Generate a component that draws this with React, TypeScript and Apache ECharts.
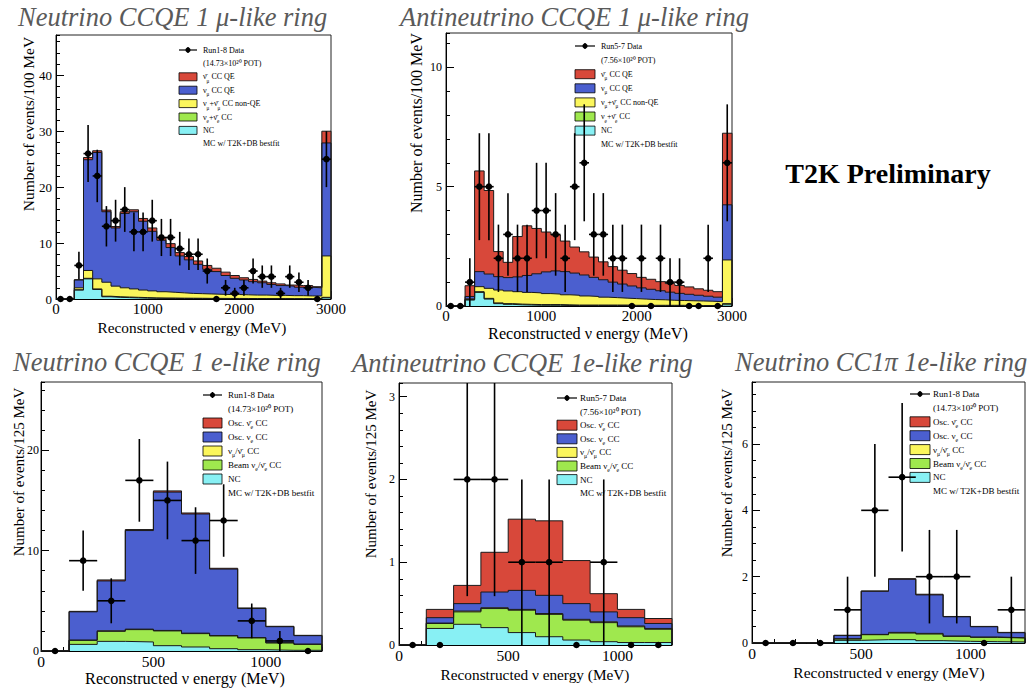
import React, { useEffect, useRef } from 'react';
import * as echarts from 'echarts';

const SERIF = '"Liberation Serif", "Times New Roman", Times, serif';

// Bin widths (MeV)
const MU_BIN = 100;
const E_BIN = 125;

// ---------- Panel 1: Neutrino CCQE 1 μ-like ring (100 MeV bins, last bin = overflow) ----------
const P1_NC = [0, 0, 1.6, 3.6, 1.7, 0.4, 0.3, 0.25, 0.2, 0.15, 0.12, 0.1, 0.1, 0.08, 0.08, 0.07, 0.06, 0.06, 0.05, 0.05, 0.05, 0.04, 0.04, 0.04, 0.04, 0.03, 0.03, 0.03, 0.03, 0.2];
const P1_NUE = [0, 0, 0.05, 0.1, 0.1, 0.1, 0.1, 0.1, 0.1, 0.1, 0.08, 0.08, 0.07, 0.07, 0.06, 0.06, 0.05, 0.05, 0.05, 0.05, 0.04, 0.04, 0.04, 0.03, 0.03, 0.03, 0.03, 0.03, 0.03, 0.1];
const P1_NONQE = [0, 0, 0.35, 1.4, 1.8, 2.5, 1.9, 1.65, 1.5, 1.35, 1.25, 1.12, 1.03, 0.95, 0.86, 0.82, 0.79, 0.74, 0.7, 0.7, 0.66, 0.62, 0.62, 0.58, 0.58, 0.54, 0.54, 0.49, 0.49, 7.4];
const P1_NUMU_QE = [0, 0, 1.4, 19.8, 22.6, 12.6, 10.4, 13.3, 13.8, 12.3, 10.65, 9.2, 8.0, 6.6, 6.0, 5.25, 4.4, 4.05, 3.4, 2.9, 2.65, 2.4, 2.2, 1.95, 1.75, 1.7, 1.5, 1.55, 1.45, 20.2];
const P1_NUMUBAR_QE = [0, 0, 0.05, 0.4, 0.3, 0.3, 0.25, 0.3, 0.35, 0.5, 0.6, 0.5, 0.7, 0.6, 0.6, 0.6, 0.7, 0.6, 0.6, 0.5, 0.4, 0.4, 0.3, 0.3, 0.3, 0.2, 0.3, 0.3, 0.2, 2.1];
const P1_DATA = [0, 0, 6, 26, 22, 13, 14, 16, 12, 12, 14, 11, 11, 9, 8, 8, 5, 0, 2, 1, 2, 5, 4, 4, 1, 4, 3, 2, 0, 25];
const P1_ERR = [0, 0, 2.45, 5.1, 4.69, 3.61, 3.74, 4, 3.46, 3.46, 3.74, 3.32, 3.32, 3, 2.83, 2.83, 2.24, 0, 1.41, 1, 1.41, 2.24, 2, 2, 1, 2, 1.73, 1.41, 0, 5];

// ---------- Panel 2: Antineutrino CCQE 1 μ-like ring ----------
const P2_NC = [0, 0, 0.25, 0.57, 0.29, 0.1, 0.07, 0.05, 0.04, 0.03, 0.03, 0.03, 0.02, 0.02, 0.02, 0.02, 0.02, 0.02, 0.02, 0.01, 0.01, 0.01, 0.01, 0.01, 0.01, 0.01, 0.01, 0.01, 0.01, 0.05];
const P2_NUE = [0, 0, 0.02, 0.03, 0.03, 0.03, 0.03, 0.03, 0.03, 0.03, 0.03, 0.03, 0.03, 0.02, 0.02, 0.02, 0.02, 0.02, 0.02, 0.02, 0.02, 0.02, 0.02, 0.02, 0.02, 0.01, 0.01, 0.01, 0.01, 0.05];
const P2_NONQE = [0, 0, 0.03, 0.21, 0.42, 0.54, 0.53, 0.52, 0.5, 0.49, 0.46, 0.44, 0.42, 0.41, 0.38, 0.36, 0.33, 0.31, 0.29, 0.28, 0.26, 0.24, 0.23, 0.21, 0.2, 0.2, 0.19, 0.18, 0.16, 1.83];
const P2_NUMU_QE = [0, 0, 0.1, 0.63, 0.6, 0.56, 0.56, 0.62, 0.71, 0.8, 0.91, 0.97, 0.97, 0.93, 0.88, 0.8, 0.73, 0.65, 0.59, 0.53, 0.47, 0.43, 0.38, 0.34, 0.3, 0.27, 0.24, 0.21, 0.19, 2.31];
const P2_NUMUBAR_QE = [0, 0, 0.45, 4.22, 3.5, 1.05, 0.64, 1.69, 2.08, 1.9, 1.67, 1.51, 1.28, 1.09, 0.97, 0.85, 0.75, 0.65, 0.58, 0.52, 0.44, 0.42, 0.38, 0.36, 0.33, 0.31, 0.27, 0.25, 0.23, 3.0];
const P2_DATA = [0, 0, 1, 5, 5, 2, 3, 2, 2, 4, 4, 3, 2, 5, 6, 3, 3, 2, 2, 0, 2, 0, 2, 1, 1, 0, 0, 2, 0, 6];
const P2_ERR = [0, 0, 1, 2.24, 2.24, 1.41, 1.73, 1.41, 1.41, 2, 2, 1.73, 1.41, 2.24, 2.45, 1.73, 1.73, 1.41, 1.41, 0, 1.41, 0, 1.41, 1, 1, 0, 0, 1.41, 0, 2.45];

// ---------- Panel 3: Neutrino CCQE 1 e-like ring (125 MeV bins) ----------
const P3_NC = [0, 0.66, 0.96, 0.9, 0.53, 0.4, 0.23, 0.13, 0.07, 0.07];
const P3_BEAM = [0, 0.4, 1.0, 1.23, 1.47, 1.33, 1.27, 1.17, 0.73, 0.59];
const P3_NUMU = [0, 0.03, 0.05, 0.05, 0.05, 0.05, 0.04, 0.04, 0.03, 0.03];
const P3_OSC_NUE = [0, 2.81, 4.97, 9.82, 13.78, 11.87, 6.62, 2.89, 1.59, 0.84];
const P3_OSC_NUEBAR = [0, 0.05, 0.1, 0.1, 0.12, 0.1, 0.08, 0.06, 0.04, 0.03];
const P3_DATA = [0, 9, 5, 17, 15, 11, 13, 3, 1, 0];
const P3_ERR = [0, 3, 2.24, 4.12, 3.87, 3.32, 3.61, 1.73, 1, 0];

// ---------- Panel 4: Antineutrino CCQE 1e-like ring ----------
const P4_NC = [0, 0.2, 0.25, 0.21, 0.15, 0.1, 0.06, 0.04, 0.03, 0.03];
const P4_BEAM = [0, 0.06, 0.15, 0.23, 0.27, 0.27, 0.24, 0.23, 0.19, 0.16];
const P4_NUMU = [0, 0.005, 0.01, 0.01, 0.01, 0.01, 0.01, 0.01, 0.01, 0.01];
const P4_OSC_NUE = [0, 0.065, 0.09, 0.19, 0.23, 0.22, 0.19, 0.12, 0.1, 0.06];
const P4_OSC_NUEBAR = [0, 0.1, 0.22, 0.48, 0.86, 0.9, 0.52, 0.22, 0.1, 0.06];
const P4_DATA = [0, 0, 2, 2, 1, 1, 0, 1, 0, 0];
const P4_ERR = [0, 0, 1.41, 1.41, 1, 1, 0, 1, 0, 0];

// ---------- Panel 5: Neutrino CC1π 1e-like ring ----------
const P5_NC = [0, 0, 0, 0.08, 0.1, 0.1, 0.07, 0.05, 0.04, 0.03];
const P5_BEAM = [0, 0, 0, 0.04, 0.15, 0.2, 0.2, 0.15, 0.13, 0.12];
const P5_NUMU = [0, 0, 0, 0.01, 0.01, 0.02, 0.02, 0.01, 0.01, 0.01];
const P5_OSC_NUE = [0, 0, 0, 0.1, 1.3, 1.6, 1.16, 0.58, 0.31, 0.15];
const P5_OSC_NUEBAR = [0, 0, 0, 0, 0.01, 0.02, 0.02, 0.01, 0.01, 0.01];
const P5_DATA = [0, 0, 0, 1, 4, 5, 2, 2, 0, 1];
const P5_ERR = [0, 0, 0, 1, 2, 2.24, 1.41, 1.41, 0, 1];

// Legend labels (top → bottom, i.e. top of stack first). "_x" marks a subscript.
const NUBAR = 'ν\u0304';
const MU_LEGEND = [`${NUBAR}_μ CC QE`, 'ν_μ CC QE', `ν_μ+${NUBAR}_μ CC non-QE`, `ν_e+${NUBAR}_e CC`, 'NC'];
const E_LEGEND = [`Osc. ${NUBAR}_e CC`, 'Osc. ν_e CC', `ν_μ/${NUBAR}_μ CC`, `Beam ν_e/${NUBAR}_e CC`, 'NC'];
const MC_LABEL = 'MC w/ T2K+DB bestfit';
const RUN18 = 'Run1-8 Data';
const RUN57 = 'Run5-7 Data';
const POT18 = '(14.73×10²⁰ POT)';
const POT57 = '(7.56×10²⁰ POT)';
const X_TITLE = 'Reconstructed ν energy (MeV)';

// Stack colours bottom → top: NC, beam νe, νμ non-QE, QE / osc νe, antineutrino
const LAYER_COLORS = ['#88f0f4', '#9fe84e', '#fbf65c', '#4b5fcf', '#d8483a'];

const PANELS = [
  {
    layers: [P1_NC, P1_NUE, P1_NONQE, P1_NUMU_QE, P1_NUMUBAR_QE], data: P1_DATA, err: P1_ERR, bin: MU_BIN,
    grid: { left: 56, top: 35, width: 275, height: 264 },
    xMax: 3000, xMajor: 1000, xMinor: 200, yMax: 47.2, yMajor: 10, yMinor: 2, showXMax: true,
    xLabelSize: 15, yLabelSize: 13, yLabelMargin: 4,
    title: 'Neutrino CCQE 1 μ-like ring', titlePos: [18, 17],
    yTitle: 'Number of events/100 MeV', yTitlePos: [28, 124], yTitleSize: 15.5,
    xTitlePos: [192, 327], xTitleSize: 15.3,
    legendLabels: MU_LEGEND, dataLabel: RUN18, potLabel: POT18,
    lg: { boxX: 179, boxW: 18, textX: 203, y0: 50, dy: 13.4, boxH: 8, fs: 8 },
  },
  {
    layers: [P2_NC, P2_NUE, P2_NONQE, P2_NUMU_QE, P2_NUMUBAR_QE], data: P2_DATA, err: P2_ERR, bin: MU_BIN,
    grid: { left: 446, top: 33, width: 286, height: 273 },
    xMax: 3000, xMajor: 1000, xMinor: 200, yMax: 11.44, yMajor: 5, yMinor: 1, showXMax: true,
    xLabelSize: 15, yLabelSize: 12, yLabelMargin: 4,
    title: 'Antineutrino CCQE 1 μ-like ring', titlePos: [400, 17],
    yTitle: 'Number of events/100 MeV', yTitlePos: [416, 123], yTitleSize: 16,
    xTitlePos: [588, 334], xTitleSize: 16.2,
    legendLabels: MU_LEGEND, dataLabel: RUN57, potLabel: POT57,
    lg: { boxX: 575, boxW: 20, textX: 601, y0: 46, dy: 14.1, boxH: 9, fs: 8 },
  },
  {
    layers: [P3_NC, P3_BEAM, P3_NUMU, P3_OSC_NUE, P3_OSC_NUEBAR], data: P3_DATA, err: P3_ERR, bin: E_BIN,
    grid: { left: 41, top: 382, width: 281, height: 269 },
    xMax: 1250, xMajor: 500, xMinor: 100, yMax: 26.8, yMajor: 10, yMinor: 2, showXMax: false,
    xLabelSize: 15.5, yLabelSize: 12, yLabelMargin: 2,
    title: 'Neutrino CCQE 1 e-like ring', titlePos: [13, 362],
    yTitle: 'Number of events/125 MeV', yTitlePos: [19, 472], yTitleSize: 15,
    xTitlePos: [185, 679], xTitleSize: 16.2,
    legendLabels: E_LEGEND, dataLabel: RUN18, potLabel: POT18,
    lg: { boxX: 203, boxW: 19, textX: 228, y0: 395, dy: 14, boxH: 10, fs: 9 },
  },
  {
    layers: [P4_NC, P4_BEAM, P4_NUMU, P4_OSC_NUE, P4_OSC_NUEBAR], data: P4_DATA, err: P4_ERR, bin: E_BIN,
    grid: { left: 399, top: 383, width: 273, height: 262 },
    xMax: 1250, xMajor: 500, xMinor: 100, yMax: 3.165, yMajor: 1, yMinor: 0.2, showXMax: false,
    xLabelSize: 15.5, yLabelSize: 12, yLabelMargin: 4,
    title: 'Antineutrino CCQE 1e-like ring', titlePos: [352, 363],
    yTitle: 'Number of events/125 MeV', yTitlePos: [371, 474], yTitleSize: 15,
    xTitlePos: [535, 674], xTitleSize: 15.3,
    legendLabels: E_LEGEND, dataLabel: RUN57, potLabel: POT57,
    lg: { boxX: 557, boxW: 20, textX: 580, y0: 398, dy: 13.6, boxH: 10, fs: 9 },
  },
  {
    layers: [P5_NC, P5_BEAM, P5_NUMU, P5_OSC_NUE, P5_OSC_NUEBAR], data: P5_DATA, err: P5_ERR, bin: E_BIN,
    grid: { left: 752, top: 382, width: 273, height: 261 },
    xMax: 1250, xMajor: 500, xMinor: 100, yMax: 7.87, yMajor: 2, yMinor: 0.5, showXMax: false,
    xLabelSize: 15.5, yLabelSize: 12, yLabelMargin: 4,
    title: 'Neutrino CC1π 1e-like ring', titlePos: [735, 362],
    yTitle: 'Number of events/125 MeV', yTitlePos: [727, 473], yTitleSize: 15,
    xTitlePos: [889, 672], xTitleSize: 15.5,
    legendLabels: E_LEGEND, dataLabel: RUN18, potLabel: POT18,
    lg: { boxX: 910, boxW: 20, textX: 933, y0: 394, dy: 13.9, boxH: 10, fs: 9 },
  },
];

function stepData(edges: number[], vals: number[]) {
  const pts: number[][] = [[edges[0], 0]];
  vals.forEach((v, i) => pts.push([edges[i], v]));
  pts.push([edges[vals.length], vals[vals.length - 1]]);
  pts.push([edges[vals.length], 0]);
  return pts;
}

function richify(s: string) {
  return s
    .split(/(_.)/u)
    .filter((p) => p.length > 0)
    .map((p) => (p[0] === '_' ? `{s|${p.slice(1)}}` : `{t|${p}}`))
    .join('');
}

function majorAxis(k: number, max: number, interval: number, labelSize: number, showMax: boolean, pos: string, margin: number) {
  return {
    type: 'value', gridIndex: k, min: 0, max, interval, position: pos,
    axisLine: { show: true, onZero: false, lineStyle: { color: '#000', width: 1 } },
    axisTick: { show: true, inside: true, length: 8, lineStyle: { color: '#000', width: 1 } },
    axisLabel: {
      show: true, fontFamily: SERIF, fontSize: labelSize, color: '#000', margin,
      showMaxLabel: showMax, showMinLabel: true, formatter: (v: number) => String(v),
    },
    splitLine: { show: false },
    minorTick: { show: false },
  };
}

function minorAxis(k: number, max: number, interval: number, pos: string) {
  return {
    type: 'value', gridIndex: k, min: 0, max, interval, position: pos, offset: 0,
    axisLine: { show: false, onZero: false },
    axisTick: { show: true, inside: true, length: 4, lineStyle: { color: '#000', width: 1 } },
    axisLabel: { show: false },
    splitLine: { show: false },
  };
}

function buildOption() {
  const grid: any[] = [];
  const xAxis: any[] = [];
  const yAxis: any[] = [];
  const series: any[] = [];
  const graphic: any[] = [];

  PANELS.forEach((p, k) => {
    grid.push({
      left: p.grid.left, top: p.grid.top, width: p.grid.width, height: p.grid.height,
      show: true, borderColor: '#222', borderWidth: 1, backgroundColor: 'transparent',
      containLabel: false, outerBoundsMode: 'none',
    });
    const xi = xAxis.length;
    xAxis.push(majorAxis(k, p.xMax, p.xMajor, p.xLabelSize, p.showXMax, 'bottom', 2));
    xAxis.push(minorAxis(k, p.xMax, p.xMinor, 'bottom'));
    const yi = yAxis.length;
    yAxis.push(majorAxis(k, p.yMax, p.yMajor, p.yLabelSize, false, 'left', p.yLabelMargin));
    yAxis.push(minorAxis(k, p.yMax, p.yMinor, 'left'));

    const n = p.data.length;
    const edges = Array.from({ length: n + 1 }, (_, i) => i * p.bin);
    const cum: number[][] = [];
    p.layers.forEach((layer, li) => {
      cum.push(layer.map((v, i) => v + (li > 0 ? cum[li - 1][i] : 0)));
    });
    for (let li = cum.length - 1; li >= 0; li--) {
      series.push({
        type: 'line', xAxisIndex: xi, yAxisIndex: yi, step: 'end', symbol: 'none', showSymbol: false,
        silent: true, animation: false, data: stepData(edges, cum[li]),
        lineStyle: { color: '#1a1a1a', width: 1 },
        areaStyle: { color: LAYER_COLORS[li], opacity: 1 },
        z: 2,
      });
    }

    const yMax = p.yMax;
    series.push({
      type: 'custom', xAxisIndex: xi, yAxisIndex: yi, silent: true, animation: false, z: 10,
      data: p.data.map((v, i) => [(i + 0.5) * p.bin, v, p.err[i], p.bin / 2]),
      renderItem: (_params: any, api: any) => {
        const x = api.value(0);
        const y = api.value(1);
        const e = api.value(2);
        const hw = api.value(3);
        const c = api.coord([x, y]);
        const children: any[] = [];
        if (e > 0) {
          const top = api.coord([x, Math.min(y + e, yMax)]);
          const bot = api.coord([x, Math.max(y - e, 0)]);
          const l = api.coord([x - hw, y]);
          const r = api.coord([x + hw, y]);
          children.push({ type: 'line', shape: { x1: c[0], y1: top[1], x2: c[0], y2: bot[1] }, style: { stroke: '#000', lineWidth: 1.6 } });
          children.push({ type: 'line', shape: { x1: l[0], y1: c[1], x2: r[0], y2: c[1] }, style: { stroke: '#000', lineWidth: 1.6 } });
        }
        children.push({ type: 'circle', shape: { cx: c[0], cy: c[1], r: 3.3 }, style: { fill: '#000' } });
        return { type: 'group', children };
      },
    });

    // Titles
    graphic.push({
      type: 'text', x: p.titlePos[0], y: p.titlePos[1], silent: true,
      style: { text: p.title, fontFamily: SERIF, fontStyle: 'italic', fontSize: 26.5, fill: '#5a5a5a', align: 'left', verticalAlign: 'middle' },
    });
    graphic.push({
      type: 'text', x: p.yTitlePos[0], y: p.yTitlePos[1], rotation: Math.PI / 2, silent: true,
      style: { text: p.yTitle, fontFamily: SERIF, fontSize: p.yTitleSize, fill: '#000', align: 'center', verticalAlign: 'middle' },
    });
    graphic.push({
      type: 'text', x: p.xTitlePos[0], y: p.xTitlePos[1], silent: true,
      style: { text: X_TITLE, fontFamily: SERIF, fontSize: p.xTitleSize, fill: '#000', align: 'center', verticalAlign: 'middle' },
    });

    // Legend
    const lg = p.lg;
    const mid = lg.boxX + lg.boxW / 2;
    const rich = {
      t: { fontFamily: SERIF, fontSize: lg.fs, fill: '#000', color: '#000', lineHeight: lg.fs + 5 },
      s: { fontFamily: SERIF, fontSize: lg.fs * 0.65, fill: '#000', color: '#000', verticalAlign: 'bottom' },
    };
    graphic.push({ type: 'line', silent: true, shape: { x1: lg.boxX, y1: lg.y0, x2: lg.boxX + lg.boxW, y2: lg.y0 }, style: { stroke: '#000', lineWidth: 1.2 } });
    graphic.push({ type: 'line', silent: true, shape: { x1: mid, y1: lg.y0 - 3, x2: mid, y2: lg.y0 + 3 }, style: { stroke: '#000', lineWidth: 1.2 } });
    graphic.push({ type: 'circle', silent: true, shape: { cx: mid, cy: lg.y0, r: 2.6 }, style: { fill: '#000' } });
    graphic.push({
      type: 'text', x: lg.textX, y: lg.y0, silent: true,
      style: { text: p.dataLabel, fontFamily: SERIF, fontSize: lg.fs, fill: '#000', align: 'left', verticalAlign: 'middle' },
    });
    graphic.push({
      type: 'text', x: lg.textX, y: lg.y0 + lg.dy, silent: true,
      style: { text: p.potLabel, fontFamily: SERIF, fontSize: lg.fs, fill: '#000', align: 'left', verticalAlign: 'middle' },
    });
    p.legendLabels.forEach((label, i) => {
      const y = lg.y0 + lg.dy * (i + 2);
      graphic.push({
        type: 'rect', silent: true, shape: { x: lg.boxX, y: y - lg.boxH / 2, width: lg.boxW, height: lg.boxH },
        style: { fill: LAYER_COLORS[4 - i], stroke: '#000', lineWidth: 0.8 },
      });
      graphic.push({
        type: 'text', x: lg.textX, y, silent: true,
        style: { text: richify(label), rich, fontFamily: SERIF, fontSize: lg.fs, fill: '#000', align: 'left', verticalAlign: 'middle' },
      });
    });
    graphic.push({
      type: 'text', x: lg.textX, y: lg.y0 + lg.dy * 7, silent: true,
      style: { text: MC_LABEL, fontFamily: SERIF, fontSize: lg.fs, fill: '#000', align: 'left', verticalAlign: 'middle' },
    });
  });

  graphic.push({
    type: 'text', x: 888, y: 173, silent: true,
    style: { text: 'T2K Preliminary', fontFamily: SERIF, fontWeight: 'bold', fontSize: 28, fill: '#000', align: 'center', verticalAlign: 'middle' },
  });

  return {
    animation: false,
    backgroundColor: '#fff',
    grid, xAxis, yAxis, series, graphic,
  };
}

export default function App() {
  const ref = useRef<HTMLDivElement>(null);
  useEffect(() => {
    if (!ref.current) return;
    const chart = echarts.init(ref.current, null, { renderer: 'svg' });
    chart.setOption(buildOption() as any);
    return () => chart.dispose();
  }, []);
  return (
    <div
      ref={ref}
      style={{ position: 'fixed', left: 0, top: 0, width: 1031, height: 691, background: '#fff' }}
    />
  );
}
